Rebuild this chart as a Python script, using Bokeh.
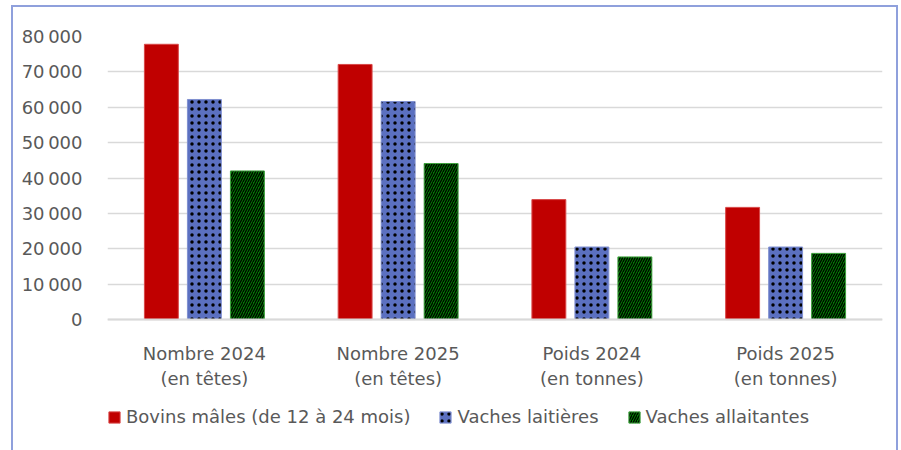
from bokeh.plotting import figure
from bokeh.models import (ColumnDataSource, FactorRange, Legend, LegendItem, FixedTicker, Range1d)
from bokeh.transform import dodge
from bokeh.embed import file_html
from bokeh.resources import INLINE

categories = ["Nombre 2024\n(en têtes)", "Nombre 2025\n(en têtes)", "Poids 2024\n(en tonnes)", "Poids 2025\n(en tonnes)"]
series_names = ["Bovins mâles (de 12 à 24 mois)", "Vaches laitières", "Vaches allaitantes"]
bovins_males = [77800, 72100, 33900, 31700]
vaches_laitieres = [62200, 61600, 20500, 20500]
vaches_allaitantes = [42000, 44100, 17700, 18700]
y_ticks = [0, 10000, 20000, 30000, 40000, 50000, 60000, 70000, 80000]
y_tick_labels = ["0", "10\u202f000", "20\u202f000", "30\u202f000", "40\u202f000", "50\u202f000", "60\u202f000", "70\u202f000", "80\u202f000"]

FONT = "DejaVu Sans"
FS = "18px"
GREY = "#595959"

source = ColumnDataSource(data=dict(cat=categories, a=bovins_males, b=vaches_laitieres, c=vaches_allaitantes))

# frame extends below zero to leave room for the category labels and legend
p = figure(x_range=FactorRange(*categories), y_range=Range1d(-35600, 80000),
           frame_width=775, frame_height=409, output_backend="svg", toolbar_location=None,
           min_border_left=94, min_border_right=14, min_border_top=29, min_border_bottom=20)
p.styles = {"border": "2px solid #8fa0dc", "margin-left": "11px", "margin-top": "5px"}
p.outline_line_color = None
p.background_fill_color = "white"

w = 0.175
off = 0.222
r1 = p.vbar(x=dodge("cat", -off, range=p.x_range), top="a", width=w, source=source,
            fill_color="#c00000", line_color="#d84848", line_width=1)
r2 = p.vbar(x=dodge("cat", 0, range=p.x_range), top="b", width=w, source=source,
            fill_color="#5b70c0", line_color="#8090d0", line_width=1,
            hatch_pattern=".", hatch_color="black", hatch_scale=7, hatch_weight=1.1)
r3 = p.vbar(x=dodge("cat", off, range=p.x_range), top="c", width=w, source=source,
            fill_color="#008000", line_color="#40a040", line_width=1,
            hatch_pattern="/", hatch_color="black", hatch_scale=5, hatch_weight=1.3)

p.yaxis.ticker = FixedTicker(ticks=y_ticks)
p.yaxis.major_label_overrides = {t: l for t, l in zip(y_ticks, y_tick_labels)}
p.yaxis.axis_line_color = None
p.yaxis.major_tick_line_color = None
p.yaxis.minor_tick_line_color = None
p.yaxis.major_label_text_font = FONT
p.yaxis.major_label_text_font_size = FS
p.yaxis.major_label_text_color = GREY
p.yaxis.major_label_standoff = 19

p.xaxis.fixed_location = 0
p.xaxis.axis_line_color = "#d9d9d9"
p.xaxis.axis_line_width = 2
p.xaxis.major_tick_line_color = None
p.xaxis.minor_tick_line_color = None
p.xaxis.major_label_text_font = FONT
p.xaxis.major_label_text_font_size = FS
p.xaxis.major_label_text_color = GREY
p.xaxis.major_label_standoff = 17

p.xgrid.grid_line_color = None
p.ygrid.grid_line_color = "#d9d9d9"
p.ygrid.grid_line_width = 1.5

legend = Legend(items=[LegendItem(label=series_names[0], renderers=[r1]),
                       LegendItem(label=series_names[1], renderers=[r2]),
                       LegendItem(label=series_names[2], renderers=[r3])],
                orientation="horizontal", location=(0, 18),
                border_line_color=None, background_fill_alpha=0,
                label_text_font=FONT, label_text_font_size=FS, label_text_color=GREY,
                glyph_width=14, glyph_height=14, spacing=28, label_standoff=5,
                margin=0, padding=0)
p.add_layout(legend)

open("out.html", "w").write(file_html(p, INLINE))
